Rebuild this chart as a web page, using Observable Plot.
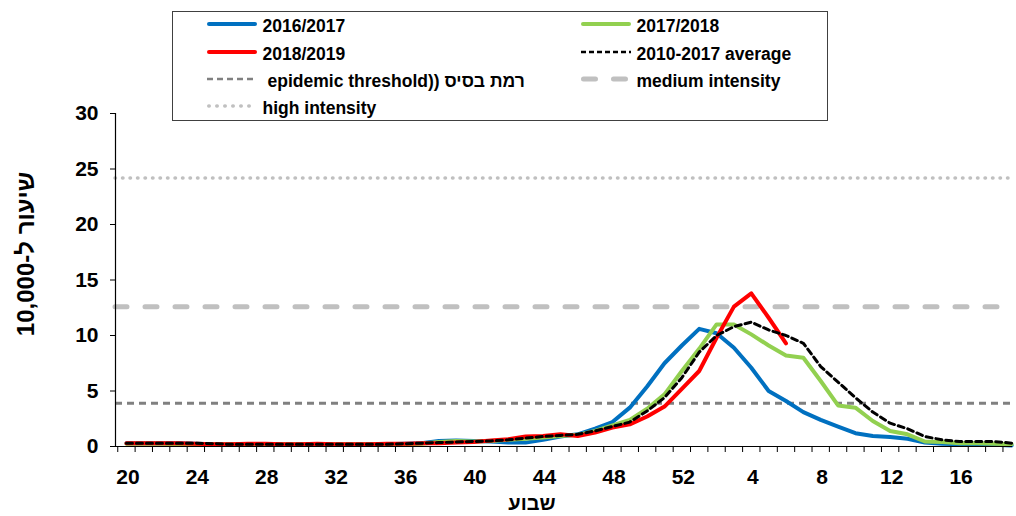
<!DOCTYPE html>
<html><head><meta charset="utf-8">
<script src="https://cdn.jsdelivr.net/npm/d3@7"></script>
<script src="https://cdn.jsdelivr.net/npm/@observablehq/plot@0.6"></script>
<style>
body{margin:0;background:#fff;font-family:"Liberation Sans",Arial,sans-serif;}
#wrap{position:relative;width:1016px;height:516px;overflow:hidden;}
#chart{position:absolute;left:0;top:0;}
#legend{position:absolute;left:172px;top:11px;width:656px;height:110px;border:1.5px solid #404040;box-sizing:border-box;background:#fff;}
.item{position:absolute;display:flex;align-items:center;height:20px;font-weight:bold;font-size:17.5px;color:#000;white-space:nowrap;}
.item svg{flex:none;}
.item .t{margin-left:5px;position:relative;top:2px;}
</style></head>
<body><div id="wrap"><div id="chart"></div><div id="legend"></div></div>
<script>
// ---- data ----
const weeks = [20,21,22,23,24,25,26,27,28,29,30,31,32,33,34,35,36,37,38,39,40,41,42,43,44,45,46,47,48,49,50,51,52,1,2,3,4,5,6,7,8,9,10,11,12,13,14,15,16,17,18,19];
const tickWeeks = [20,24,28,32,36,40,44,48,52,4,8,12,16];
const yTicks = [0,5,10,15,20,25,30];
const s2016 = [0.3,0.3,0.3,0.3,0.25,0.2,0.2,0.2,0.2,0.2,0.2,0.2,0.2,0.2,0.2,0.2,0.25,
  0.3,0.5,0.55,0.5,0.45,0.35,0.35,0.6,0.9,1.1,1.6,2.2,3.5,5.4,7.5,9.1,
  10.6,10.2,8.9,7.1,5.0,4.1,3.1,2.4,1.8,1.2,0.95,0.85,0.7,0.35,0.25,0.2,0.15,0.15,0.1];
const s2017 = [0.25,0.25,0.25,0.2,0.2,0.2,0.2,0.2,0.2,0.2,0.2,0.2,0.2,0.2,0.2,0.2,0.2,
  0.25,0.4,0.5,0.45,0.5,0.6,0.7,0.8,0.95,1.05,1.4,1.9,2.4,3.4,4.7,6.8,
  8.8,11.0,11.0,10.1,9.1,8.2,8.0,5.9,3.7,3.5,2.3,1.4,1.1,0.45,0.4,0.3,0.3,0.25,0.2];
const s2018 = [0.3,0.3,0.3,0.3,0.25,0.2,0.2,0.25,0.25,0.2,0.2,0.25,0.2,0.2,0.2,0.25,0.25,
  0.3,0.3,0.35,0.4,0.55,0.65,0.9,0.95,1.1,0.95,1.25,1.7,2.0,2.7,3.6,5.2,
  6.8,9.8,12.6,13.8,11.6,9.3,null,null,null,null,null,null,null,null,null,null,null,null,null];
const sAvg = [0.3,0.3,0.3,0.3,0.3,0.25,0.2,0.2,0.2,0.2,0.2,0.2,0.2,0.2,0.2,0.2,0.25,
  0.3,0.35,0.4,0.45,0.5,0.6,0.75,0.9,1.0,1.1,1.4,1.8,2.2,3.2,4.4,6.2,
  8.5,10.0,10.8,11.2,10.5,10.0,9.3,7.2,5.8,4.4,3.1,2.1,1.6,0.9,0.6,0.45,0.45,0.45,0.3];
const epidemic = 3.9, medium = 12.6, high = 24.2;
const yLabel = "שיעור ל-10,000";
const xLabel = "שבוע";

// ---- table ----
const idx = weeks.map((w,i)=>i);
const rows = s => idx.map(i => ({i, v: s[i]}));
const tickIdx = tickWeeks.map(w => weeks.indexOf(w));
const halfTicks = idx.slice(0, idx.length - 1).map(i => i - 0.5).concat([idx.length - 1.5]);
const xmin = -0.63, xmax = idx.length - 1 + 0.05;

const chart = Plot.plot({
  width: 1016, height: 516,
  marginTop: 113, marginBottom: 70, marginLeft: 115, marginRight: 4,
  style: {fontFamily: '"Liberation Sans", Arial, sans-serif', background: "transparent", color: "#000"},
  x: {domain: [xmin, xmax]},
  y: {domain: [0, 30]},
  marks: [
    Plot.ruleY([high], {stroke: "#C0C0C0", strokeWidth: 3.5, strokeDasharray: "0.5,7", strokeLinecap: "round"}),
    Plot.ruleY([medium], {stroke: "#C0C0C0", strokeWidth: 5, strokeDasharray: "12,18", strokeLinecap: "round"}),
    Plot.ruleY([epidemic], {stroke: "#808080", strokeWidth: 3, strokeDasharray: "7,5"}),
    Plot.line(rows(s2016), {x: "i", y: "v", stroke: "#0070C0", strokeWidth: 4, strokeLinejoin: "round"}),
    Plot.line(rows(s2017), {x: "i", y: "v", stroke: "#92D050", strokeWidth: 4, strokeLinejoin: "round"}),
    Plot.line(rows(s2018), {x: "i", y: "v", stroke: "#FF0000", strokeWidth: 4, strokeLinejoin: "round"}),
    Plot.line(rows(sAvg), {x: "i", y: "v", stroke: "#000", strokeWidth: 3, strokeDasharray: "6,4"}),
    Plot.ruleX([xmin], {stroke: "#000", strokeWidth: 1.2}),
    Plot.ruleY([0], {stroke: "#000", strokeWidth: 1.2}),
    Plot.axisY({ticks: yTicks, tickSize: 5, tickPadding: 12, fontSize: 21, fontWeight: "bold", label: null, stroke: "#000"}),
    Plot.axisX({ticks: halfTicks, tickSize: 6, tickFormat: () => "", label: null, stroke: "#000"}),
    Plot.axisX({ticks: tickIdx, tickSize: 0, tickPadding: 23, dx: 1.5, tickFormat: i => String(weeks[i]), fontSize: 21, fontWeight: "bold", label: null}),
    Plot.text([yLabel], {frameAnchor: "left", textAnchor: "middle", dx: -89, dy: -26, rotate: -90, fontSize: 24, fontWeight: "bold"}),
    Plot.text([xLabel], {frameAnchor: "bottom", dx: -32, dy: 63, fontSize: 20, fontWeight: "bold"})
  ]
});
document.getElementById("chart").appendChild(chart);

// ---- legend ----
const legendItems = [
  {label: "2016/2017", col: 0, row: 0, stroke: "#0070C0", w: 4, dash: null, cap: "round"},
  {label: "2017/2018", col: 1, row: 0, stroke: "#92D050", w: 4, dash: null, cap: "round"},
  {label: "2018/2019", col: 0, row: 1, stroke: "#FF0000", w: 4, dash: null, cap: "round"},
  {label: "2010-2017 average", col: 1, row: 1, stroke: "#000", w: 2.5, dash: "5,3", cap: "butt"},
  {label: "epidemic threshold))", heb: "רמת בסיס", col: 0, row: 2, stroke: "#808080", w: 2.5, dash: "6,4", cap: "butt", pad: 10},
  {label: "medium intensity", col: 1, row: 2, stroke: "#C0C0C0", w: 5, dash: "12,18", cap: "round"},
  {label: "high intensity", col: 0, row: 3, stroke: "#C0C0C0", w: 3.5, dash: "0.5,7.5", cap: "round"}
];
const lg = document.getElementById("legend");
const colX = [32.5, 406.5], rowY = [2, 30, 57, 84];
for (const it of legendItems) {
  const d = document.createElement("div");
  d.className = "item";
  d.style.left = colX[it.col] + "px";
  d.style.top = rowY[it.row] + "px";
  const dash = it.dash ? `stroke-dasharray="${it.dash}"` : "";
  const off = it.cap === "round" ? it.w/2 : 0;
  d.innerHTML = `<svg width="52" height="20"><line x1="${1+off}" y1="10" x2="${51-off}" y2="10" stroke="${it.stroke}" stroke-width="${it.w}" stroke-linecap="${it.cap}" ${dash}/></svg>`;
  const t = document.createElement("span");
  t.className = "t";
  if (it.pad) t.style.marginLeft = it.pad + "px";
  const a = document.createElement("span"); a.dir = "ltr"; a.textContent = it.label; t.appendChild(a);
  if (it.heb) {
    t.appendChild(document.createTextNode(" "));
    const b = document.createElement("span"); b.dir = "rtl"; b.textContent = it.heb; t.appendChild(b);
  }
  d.appendChild(t);
  lg.appendChild(d);
}
</script>
</body></html>
